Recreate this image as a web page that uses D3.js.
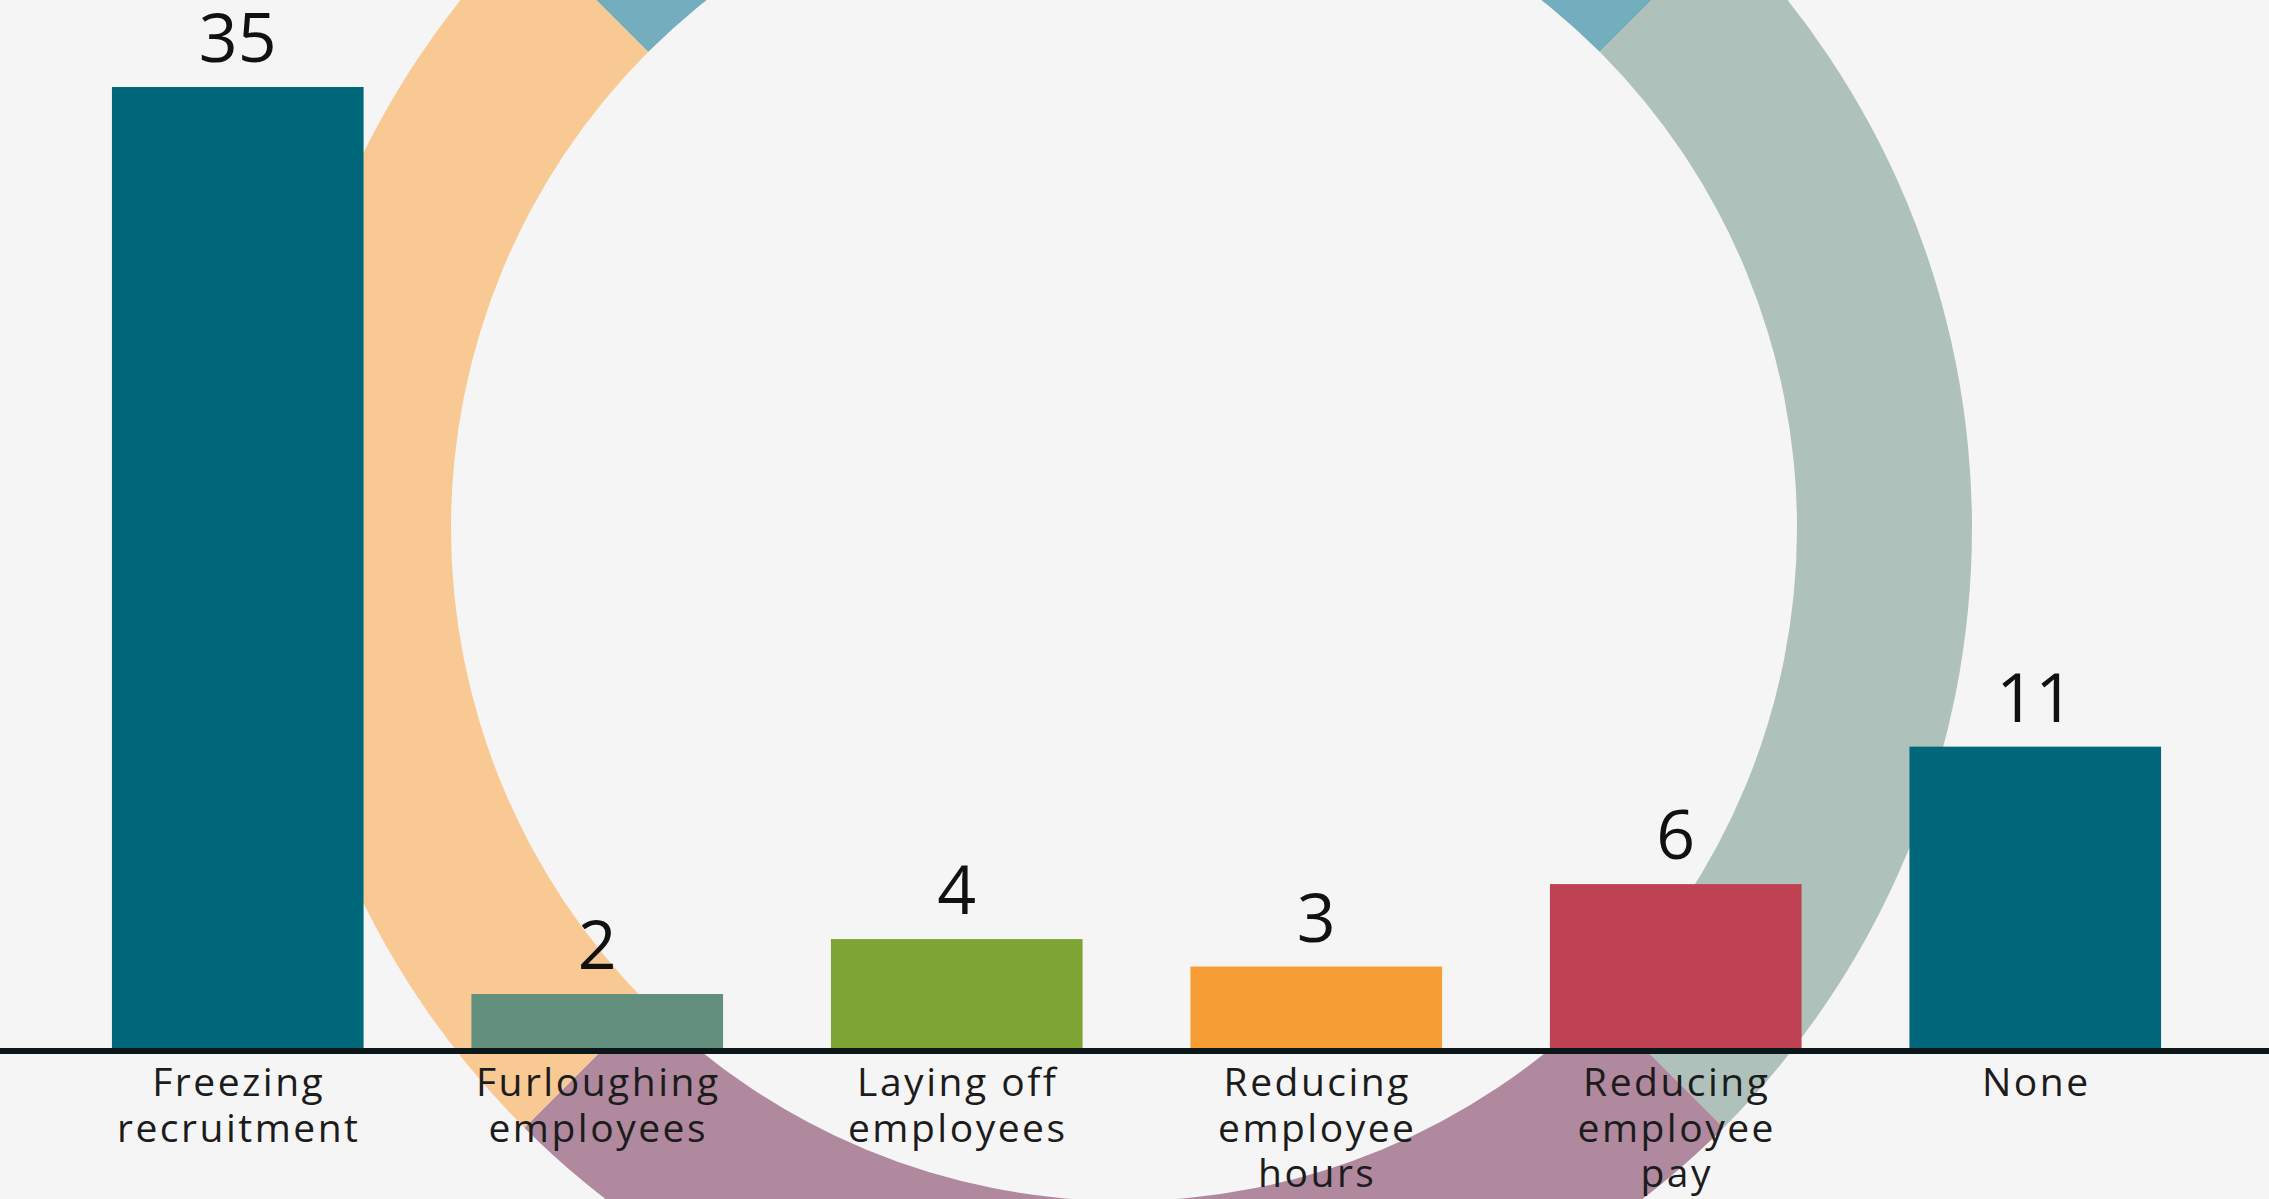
<!DOCTYPE html>
<html>
<head>
<meta charset="utf-8">
<script src="https://cdn.jsdelivr.net/npm/d3@7"></script>
<style>
  html, body { margin: 0; padding: 0; background: #f6f5f5; }
  .main { width: 2269px; height: 1199px; }
</style>
</head>
<body>
<div class="main"></div>
<script>
// chart values
const categories = ["Freezing recruitment", "Furloughing employees", "Laying off employees",
    "Reducing employee hours", "Reducing employee pay", "None"]
const labelLines = [["Freezing", "recruitment"], ["Furloughing", "employees"], ["Laying off", "employees"],
    ["Reducing", "employee", "hours"], ["Reducing", "employee", "pay"], ["None"]]
const values = [35, 2, 4, 3, 6, 11]
const barColors = ["#01687b", "#628f7e", "#7ea533", "#f69d33", "#be4253", "#01687b"]

// decorative ring behind the bars
const ringValues = [25, 25, 25, 25]
const ringColors = ["#74adbd", "#aec2bb", "#b0899f", "#f8c993"]

const width = 2269, height = 1199

const svg = d3.select(".main")
    .append("svg")
    .attr("width", width)
    .attr("height", height)
    .style("font-family", "'Open Sans', sans-serif")

svg.append("rect")
    .attr("width", width)
    .attr("height", height)
    .attr("fill", "#f6f5f5")

const x = d3.scaleBand()
    .domain(categories)
    .range([58, 2215])
    .paddingInner(0.3)
    .paddingOuter(0.15)

const y = d3.scaleLinear()
    .domain([0, 35])
    .range([1049, 87])

// ring
const pie = d3.pie()
    .sort(null)
    .value(d => d)
    .startAngle(-Math.PI / 4)
    .endAngle(Math.PI * 7 / 4)

const arc = d3.arc()
    .innerRadius(673)
    .outerRadius(848)

svg.append("g")
    .attr("transform", "translate(1124, 528)")
    .selectAll("path")
    .data(pie(ringValues))
    .join("path")
    .attr("d", arc)
    .attr("fill", (d, i) => ringColors[i])

// bars
svg.append("g")
    .selectAll("rect")
    .data(values)
    .join("rect")
    .attr("x", (d, i) => x(categories[i]))
    .attr("y", d => y(d))
    .attr("width", x.bandwidth())
    .attr("height", d => y(0) - y(d))
    .attr("fill", (d, i) => barColors[i])

// value labels
svg.append("g")
    .selectAll("text")
    .data(values)
    .join("text")
    .attr("x", (d, i) => x(categories[i]) + x.bandwidth() / 2)
    .attr("y", d => y(d) - 25)
    .attr("text-anchor", "middle")
    .attr("font-size", 68)
    .attr("fill", "#111")
    .text(d => d)

// baseline
svg.append("line")
    .attr("x1", 0)
    .attr("x2", width)
    .attr("y1", 1051)
    .attr("y2", 1051)
    .attr("stroke", "#0c1719")
    .attr("stroke-width", 6)

// category labels
const labels = svg.append("g")
    .selectAll("text")
    .data(categories)
    .join("text")
    .attr("text-anchor", "middle")
    .attr("font-size", 39)
    .attr("letter-spacing", 2.5)
    .attr("fill", "#1c1c1c")
    .attr("transform", d => `translate(${x(d) + x.bandwidth() / 2 + 1}, 1096)`)

labels.selectAll("tspan")
    .data((d, i) => labelLines[i])
    .join("tspan")
    .attr("x", 0)
    .attr("y", (d, i) => i * 45.5)
    .text(d => d)
</script>
</body>
</html>
